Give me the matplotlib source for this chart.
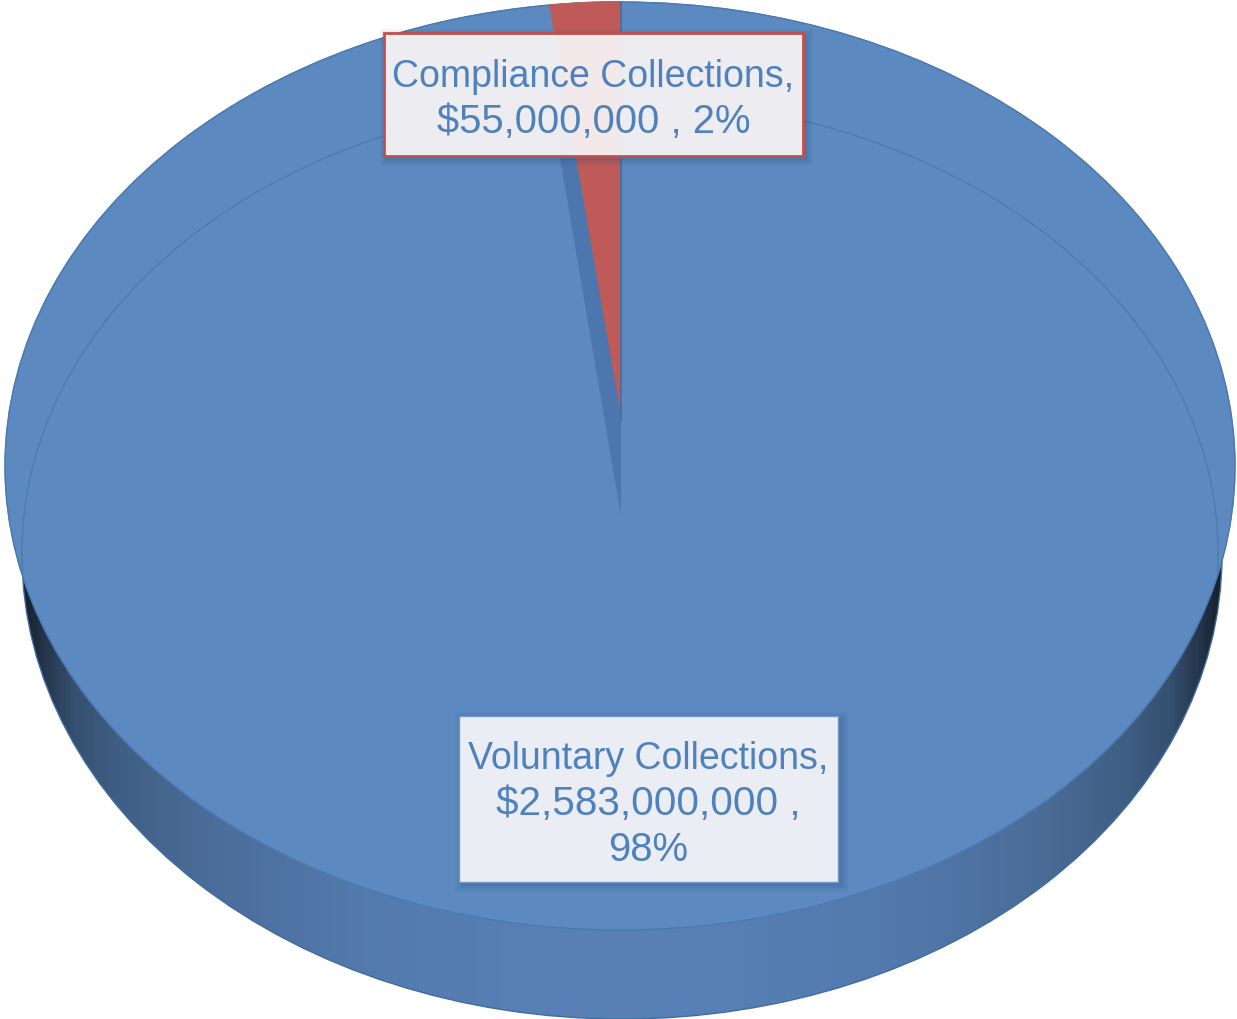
import numpy as np
import matplotlib
matplotlib.use("Agg")
import matplotlib.pyplot as plt
from matplotlib.patches import Ellipse, Arc, Rectangle, Polygon
from matplotlib.colors import LinearSegmentedColormap

categories = ["Compliance Collections", "Voluntary Collections"]
amounts = [55000000, 2583000000]
percents = [2, 98]

W, H = 1237, 1019
BLUE = "#5C89BF"
RED = "#BE5B58"
TEXT = "#4F81BD"

plt.rcParams["font.family"] = ["Liberation Sans", "DejaVu Sans"]
fig = plt.figure(figsize=(W / 100, H / 100), dpi=100, facecolor="white")


def pixel_axes(z):
    ax = fig.add_axes([0, 0, 1, 1], zorder=z)
    ax.set_xlim(0, W)
    ax.set_ylim(H, 0)
    ax.axis("off")
    ax.patch.set_alpha(0)
    return ax


def pie_axes(cx, cy, rx, ry, colors, z, edge):
    ax = fig.add_axes([(cx - rx) / W, 1 - (cy + ry) / H, 2 * rx / W, 2 * ry / H], zorder=z)
    ax.pie(amounts, colors=colors, startangle=90, radius=1,
           wedgeprops={"linewidth": 0.8 if edge else 0, "edgecolor": BLUE if edge else "none"})
    ax.set_aspect("auto")
    ax.set_xlim(-1, 1)
    ax.set_ylim(-1, 1)
    ax.axis("off")
    ax.patch.set_alpha(0)
    return ax


# side wall
ax_side = pixel_axes(1)
side = dict(xy=(622, 555), width=1200, height=928)
cmap = LinearSegmentedColormap.from_list(
    "wall",
    [(0.0, "#18222e"), (0.015, "#24344a"), (0.04, "#35506f"), (0.08, "#3f5f85"),
     (0.15, "#4a6c98"), (0.27, "#5379ac"), (0.42, "#5880B6"), (0.58, "#5880B6"),
     (0.73, "#5379ac"), (0.85, "#4a6c98"), (0.92, "#3f5f85"), (0.96, "#35506f"),
     (0.985, "#24344a"), (1.0, "#18222e")],
)
im = ax_side.imshow(np.linspace(0, 1, 600)[None, :], cmap=cmap, aspect="auto",
                    extent=(22, 1222, 1019, 91), interpolation="bilinear")
clip = Ellipse(facecolor="none", edgecolor="#3f6ca3", linewidth=1, **side)
ax_side.add_patch(clip)
im.set_clip_path(clip)
ax_side.set_xlim(0, W)
ax_side.set_ylim(H, 0)

# top surface
pie_axes(620, 466, 615, 464, [BLUE, BLUE], 2, True)

# rims and cut facet
ax_mid = pixel_axes(3)
ax_mid.add_patch(Ellipse((620, 466), 1230, 928, facecolor="none", edgecolor="#4a78b0", linewidth=1))
ax_mid.add_patch(Arc((620, 552), 1196, 906, theta1=178, theta2=362, edgecolor="#5079af", linewidth=1))
ax_mid.add_patch(Polygon([(621, 516), (560, 158), (556, 60), (621, 60)], closed=True,
                         facecolor="#4C77AE", edgecolor="none"))

# raised slice
pie_axes(621, 415, 550, 414, [RED, "none"], 4, False)

# labels
ax_lab = pixel_axes(5)
ax_lab.plot([621, 621], [2, 420], color="#44709f", linewidth=1.2, zorder=1)


def label(x0, y0, x1, y1, face, edge, lw, lines):
    for g, a in ((7, 0.05), (5, 0.07), (3, 0.09), (1, 0.10)):
        ax_lab.add_patch(Rectangle((x0 - g + 3, y0 - g + 3), x1 - x0 + 2 * g, y1 - y0 + 2 * g,
                                   facecolor="#2c4d78", edgecolor="none", alpha=a, zorder=2))
    ax_lab.add_patch(Rectangle((x0, y0), x1 - x0, y1 - y0, facecolor=face,
                               edgecolor=edge, linewidth=lw, zorder=3))
    for text, ty, size in lines:
        ax_lab.text((x0 + x1) / 2, ty, text, color=TEXT, fontsize=size, ha="center",
                    va="center_baseline", zorder=4)


label(384, 33, 803, 156, (1, 0.98, 0.98, 0.90), "#C0504D", 2,
      [(f"{categories[0]},", 73, 27),
       (f"${amounts[0]:,} , {percents[0]}%", 118, 28.8)])
label(459, 716, 838, 882, (1, 0.995, 0.995, 0.885), "#6f97c8", 1,
      [(f"{categories[1]},", 755, 27),
       (f"${amounts[1]:,} ,", 800, 29.2),
       (f"{percents[1]}%", 846, 28.8)])

fig.savefig("out.png", dpi=100)
